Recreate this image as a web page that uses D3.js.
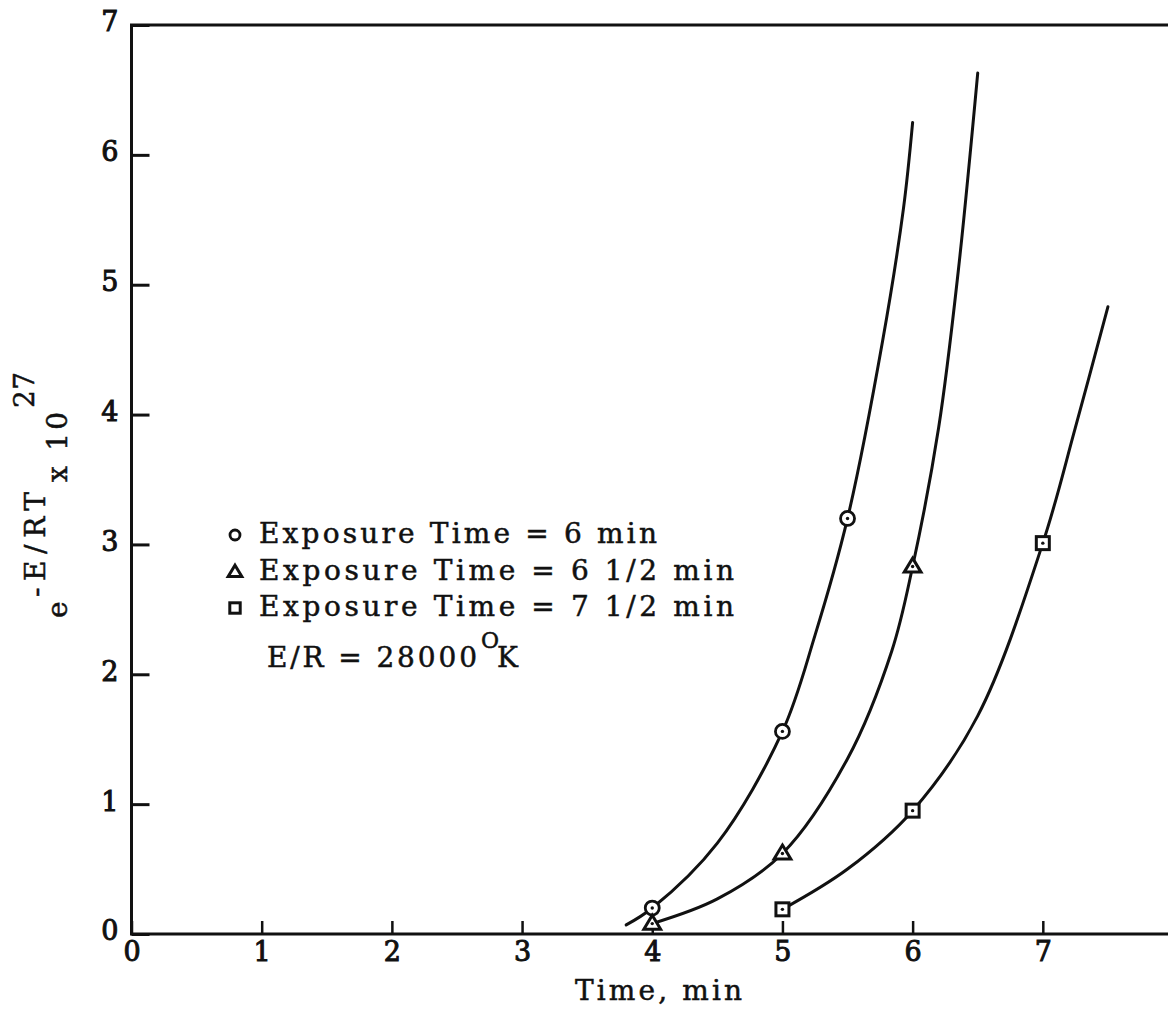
<!DOCTYPE html>
<html>
<head>
<meta charset="utf-8">
<script src="https://cdn.jsdelivr.net/npm/d3@7/dist/d3.min.js"></script>
<style>
  html, body { margin: 0; padding: 0; background: #fff; }
  svg { display: block; }
  text { font-family: "DejaVu Serif", "Liberation Serif", serif; fill: #111; }
</style>
</head>
<body>
<div id="chart"></div>
<script>
// Measured points (time, min ; e^-E/RT x 10^27)
const circleTimes   = [4, 5, 5.5];
const circleValues  = [0.2, 1.56, 3.2];
const triangleTimes = [4, 5, 6];
const triangleValues = [0.08, 0.62, 2.83];
const squareTimes   = [5, 6, 7];
const squareValues  = [0.19, 0.95, 3.01];

// Hand-drawn fitted curves, sampled along each line
const circleCurveTimes    = [3.8, 4.0, 4.5, 5.0, 5.25, 5.5, 5.77, 5.93, 6.0];
const circleCurveValues   = [0.07, 0.2, 0.7, 1.56, 2.3, 3.2, 4.57, 5.59, 6.25];
const triangleCurveTimes  = [4.0, 4.5, 5.0, 5.5, 5.84, 6.0, 6.2, 6.35, 6.5];
const triangleCurveValues = [0.08, 0.27, 0.62, 1.35, 2.18, 2.83, 3.9, 5.1, 6.63];
const squareCurveTimes    = [5.0, 5.5, 6.0, 6.5, 7.0, 7.25, 7.5];
const squareCurveValues   = [0.19, 0.5, 0.95, 1.68, 3.01, 3.9, 4.83];

// Axis ticks
const xTicks = [0, 1, 2, 3, 4, 5, 6, 7];
const yTicks = [0, 1, 2, 3, 4, 5, 6, 7];

// Legend entries
const legendSymbols = ["circle", "triangle", "square"];
const legendLabels = [
  "Exposure Time = 6 min",
  "Exposure Time = 6 1/2 min",
  "Exposure Time = 7 1/2 min"
];

const W = 1168, H = 1011;
const ink = "#111";

const svg = d3.select("#chart").append("svg").attr("width", W).attr("height", H);

const x = d3.scaleLinear().domain([0, 8]).range([131.5, 1173]);
const y = d3.scaleLinear().domain([0, 7]).range([934, 25]);

// Typewriter-style text: fixed overall width via textLength
function typeText(g, str, tx, ty, size, len, stroke = 0.5) {
  return g.append("text").attr("x", tx).attr("y", ty)
    .style("font-size", size + "px")
    .style("stroke", ink).style("stroke-width", stroke)
    .attr("textLength", len).attr("lengthAdjust", "spacing")
    .text(str);
}

// Frame: left, bottom, top (right edge lies beyond the page)
svg.append("path")
  .attr("d", `M${x(8)},${y(7)} L${x(0)},${y(7)} L${x(0)},${y(0)} L${x(8)},${y(0)}`)
  .attr("fill", "none").attr("stroke", ink).attr("stroke-width", 3);

// Y axis with inward ticks
const yAxis = svg.append("g")
  .attr("transform", `translate(${x(0)},0)`)
  .call(d3.axisLeft(y).tickValues(yTicks).tickSizeInner(-18).tickSizeOuter(0).tickPadding(13)
    .tickFormat(d3.format("d")));
yAxis.select(".domain").remove();
yAxis.selectAll(".tick line").attr("stroke", ink).attr("stroke-width", 3);
yAxis.selectAll(".tick text")
  .attr("dy", "0.22em")
  .style("font-size", "27px")
  .style("stroke", ink).style("stroke-width", 1).attr("fill", ink);

// X axis with inward ticks
const xAxis = svg.append("g")
  .attr("transform", `translate(0,${y(0)})`)
  .call(d3.axisBottom(x).tickValues(xTicks).tickSizeInner(-13).tickSizeOuter(0).tickPadding(8)
    .tickFormat(d3.format("d")));
xAxis.select(".domain").remove();
xAxis.selectAll(".tick line").attr("stroke", ink).attr("stroke-width", 2.5);
xAxis.selectAll(".tick text")
  .style("font-size", "27px")
  .style("stroke", ink).style("stroke-width", 1).attr("fill", ink);

// X axis title
typeText(svg, "Time, min", 575, 1000, 28, 167);

// Y axis title, rotated, built from pieces on staggered baselines
const yt = svg.append("g").attr("transform", "rotate(-90)");
typeText(yt, "e", -618, 67, 28, 20);
typeText(yt, "-E/RT", -597, 45, 28, 105);
typeText(yt, "x 10", -482, 67, 28, 70);
typeText(yt, "27", -408, 34, 28, 36);

// Curves
const line = d3.line().x(d => x(d[0])).y(d => y(d[1])).curve(d3.curveCatmullRom.alpha(0.5));
const curves = [
  d3.zip(circleCurveTimes, circleCurveValues),
  d3.zip(triangleCurveTimes, triangleCurveValues),
  d3.zip(squareCurveTimes, squareCurveValues)
];
svg.append("g").selectAll("path").data(curves).join("path")
  .attr("d", line).attr("fill", "none")
  .attr("stroke", ink).attr("stroke-width", 3).attr("stroke-linecap", "round");

// Marker drawing
function drawMarker(g, kind, cx, cy, s, dot) {
  if (kind === "circle") {
    g.append("circle").attr("cx", cx).attr("cy", cy).attr("r", s)
      .attr("fill", "#fff").attr("stroke", ink).attr("stroke-width", 2.8);
  } else if (kind === "triangle") {
    const h = s * 1.75;
    g.append("path")
      .attr("d", `M${cx},${cy - h * 0.6} L${cx + s * 1.05},${cy + h * 0.4} L${cx - s * 1.05},${cy + h * 0.4} Z`)
      .attr("fill", "#fff").attr("stroke", ink).attr("stroke-width", 3).attr("stroke-linejoin", "miter");
  } else {
    g.append("rect").attr("x", cx - s).attr("y", cy - s).attr("width", 2 * s).attr("height", 2 * s)
      .attr("fill", "#fff").attr("stroke", ink).attr("stroke-width", 3);
  }
  if (dot) g.append("circle").attr("cx", cx).attr("cy", cy).attr("r", 1.7).attr("fill", ink);
}

const markerSets = [
  { kind: "circle", pts: d3.zip(circleTimes, circleValues), size: 7 },
  { kind: "triangle", pts: d3.zip(triangleTimes, triangleValues), size: 8 },
  { kind: "square", pts: d3.zip(squareTimes, squareValues), size: 6.5 }
];
const mg = svg.append("g");
markerSets.forEach(set => {
  set.pts.forEach(p => drawMarker(mg, set.kind, x(p[0]), y(p[1]), set.size, true));
});

// Legend
const lg = svg.append("g");
const rowBase = [543, 580, 616];
const rowLen = [398, 475, 475];
legendSymbols.forEach((k, i) => {
  const size = k === "circle" ? 5 : (k === "triangle" ? 6.5 : 5.2);
  drawMarker(lg, k, 235, rowBase[i] - 8, size, false);
  typeText(lg, legendLabels[i], 259, rowBase[i], 28, rowLen[i]);
});
typeText(lg, "E/R = 28000", 267, 667, 28, 210);
typeText(lg, "O", 481, 648, 22, 15);
typeText(lg, "K", 497, 667, 28, 15);
</script>
</body>
</html>
